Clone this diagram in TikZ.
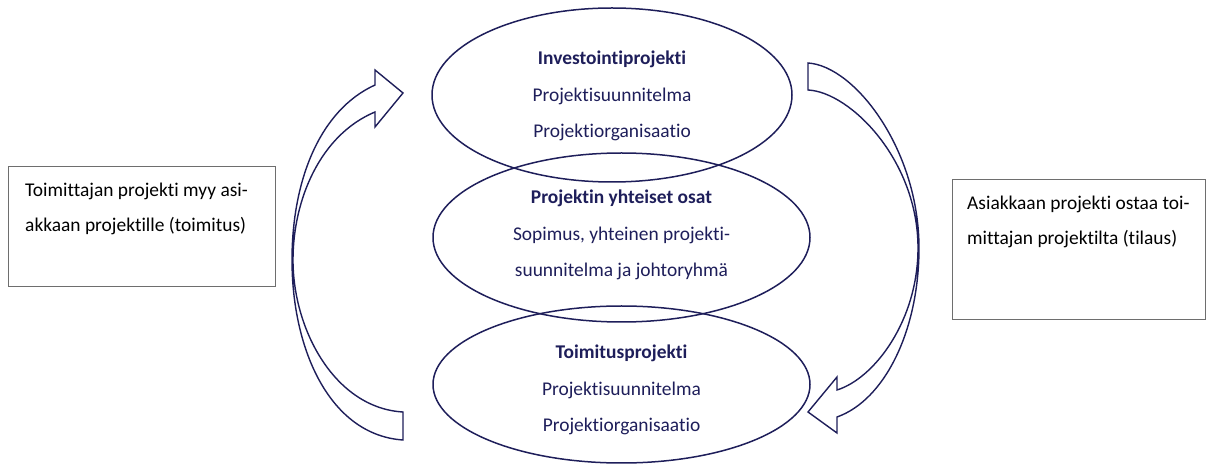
\documentclass[tikz,border=0pt]{standalone}
\usepackage{fontspec}
\setmainfont{Carlito}[Ligatures=NoCommon]
\usepackage{tikz}
\usetikzlibrary{shapes.geometric}
\definecolor{navyline}{HTML}{1E1E5A}
\definecolor{boxgray}{HTML}{6E6E6E}

\begin{document}
\begin{tikzpicture}[line join=miter,
  projell/.style={ellipse,draw=navyline,line width=1.5bp,inner sep=0pt},
  elltext/.style={text=navyline,align=center,font=\fontsize{19.5}{36.5}\selectfont},
  infobox/.style={rectangle,draw=boxgray,line width=1bp,inner sep=0pt},
  boxtext/.style={align=left,anchor=base west,inner sep=0pt,font=\fontsize{19.5}{35.5}\selectfont},
  blockarrow/.style={draw=navyline,line width=1.4bp,fill=white}]
%%
\useasboundingbox (0bp,0bp) rectangle (1206bp,466bp);
%% the three projects
\node (invest) at (612bp,371bp) [projell,minimum width=360bp,minimum height=174bp] {};
\node (common) at (621.5bp,228.5bp) [projell,minimum width=377bp,minimum height=169bp] {};
\node (supply) at (621.5bp,81.5bp) [projell,minimum width=377bp,minimum height=157bp] {};
\node (invest_txt) at (612bp,370bp) [elltext] {\textbf{Investointiprojekti}\\Projektisuunnitelma\\Projektiorganisaatio};
\node (common_txt) at (621.5bp,231bp) [elltext] {\textbf{Projektin yhteiset osat}\\Sopimus, yhteinen projekti-\\suunnitelma ja johtoryhmä};
\node (supply_txt) at (621.5bp,76bp) [elltext] {\textbf{Toimitusprojekti}\\Projektisuunnitelma\\Projektiorganisaatio};
%% text boxes
\node (sellbox) at (141.5bp,239bp) [infobox,minimum width=267bp,minimum height=120bp] {};
\node (buybox) at (1078.5bp,216bp) [infobox,minimum width=253bp,minimum height=140bp] {};
\node (sell_txt) at (25bp,234bp) [boxtext] {Toimittajan projekti myy asi-\\akkaan projektille (toimitus)};
\node (buy_txt) at (967bp,221bp) [boxtext] {Asiakkaan projekti ostaa toi-\\mittajan projektilta (tilaus)};
%% curved block arrows
\draw [blockarrow] (403bp,26bp) .. controls (330bp,31bp) and (292bp,116bp) .. (292bp,206bp)
  .. controls (292bp,286bp) and (320bp,356bp) .. (375bp,381bp)
  -- (375bp,396bp) -- (403bp,373bp) -- (375bp,339bp) -- (375bp,354bp)
  .. controls (320bp,331bp) and (293bp,266bp) .. (293bp,206bp)
  .. controls (293bp,136bp) and (335bp,58bp) .. (403bp,54bp) -- cycle;
\draw [blockarrow] (808bp,403bp) .. controls (855bp,400bp) and (919bp,316bp) .. (919bp,218bp)
  .. controls (919bp,136bp) and (885bp,66bp) .. (837bp,49bp)
  -- (837bp,33bp) -- (808bp,54bp) -- (837bp,89bp) -- (837bp,76bp)
  .. controls (875bp,88bp) and (918bp,146bp) .. (918bp,218bp)
  .. controls (918bp,306bp) and (850bp,374bp) .. (808bp,376bp) -- cycle;
%
\end{tikzpicture}
\end{document}
